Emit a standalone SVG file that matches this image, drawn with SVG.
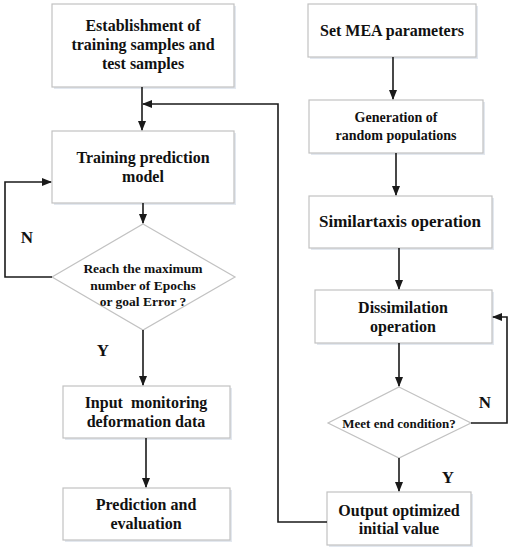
<svg xmlns="http://www.w3.org/2000/svg" width="512" height="550" viewBox="0 0 512 550">
<style>
.box{fill:#ffffff;stroke:#c2c2c2;stroke-width:1.2}
.sh{fill:#e3e8ef;stroke:none}
.t{font-family:"Liberation Serif","Times New Roman",serif;font-weight:bold;fill:#111;text-anchor:middle;white-space:pre}
.c{fill:none;stroke:#1a1a1a;stroke-width:1.6}
.lbl{font-family:"Liberation Serif","Times New Roman",serif;font-weight:bold;fill:#111;font-size:17px;text-anchor:middle}
</style>
<defs>
<marker id="ah" markerUnits="userSpaceOnUse" markerWidth="10" markerHeight="8" refX="9" refY="4" orient="auto">
<path d="M0,0 L10,4 L0,8 z" fill="#1a1a1a"/>
</marker>
</defs>
<rect width="512" height="550" fill="#ffffff"/>

<g id="n1">
<rect class="sh" x="54" y="6" width="182" height="83"/>
<rect class="box" x="52" y="4" width="182" height="83"/>
<text class="t" font-size="16" x="143" y="31">Establishment of</text>
<text class="t" font-size="16" x="143" y="50">training samples and</text>
<text class="t" font-size="16" x="143" y="69">test samples</text>
</g>
<g id="n2">
<rect class="sh" x="54" y="133" width="182" height="72"/>
<rect class="box" x="52" y="131" width="182" height="72"/>
<text class="t" font-size="16" x="143" y="163">Training prediction</text>
<text class="t" font-size="16" x="143" y="182">model</text>
</g>
<g id="n3">
<polygon points="143,224 235,277 143,330 52,277" class="box"/>
<text class="t" font-size="13.5" x="143" y="273">Reach the maximum</text>
<text class="t" font-size="13.5" x="143" y="290">number of Epochs</text>
<text class="t" font-size="13.5" x="143" y="306">or goal Error ?</text>
</g>
<g id="n4">
<rect class="sh" x="65" y="388" width="167" height="52"/>
<rect class="box" x="63" y="386" width="167" height="52"/>
<text class="t" font-size="16" x="146" y="408">Input  monitoring</text>
<text class="t" font-size="16" x="146" y="427">deformation data</text>
</g>
<g id="n5">
<rect class="sh" x="65" y="490" width="167" height="52"/>
<rect class="box" x="63" y="488" width="167" height="52"/>
<text class="t" font-size="16" x="146" y="510">Prediction and</text>
<text class="t" font-size="16" x="146" y="529">evaluation</text>
</g>

<g id="n6">
<rect class="sh" x="310" y="6" width="168" height="53"/>
<rect class="box" x="308" y="4" width="168" height="53"/>
<text class="t" font-size="16" x="392" y="36">Set MEA parameters</text>
</g>
<g id="n7">
<rect class="sh" x="311" y="102" width="174" height="53"/>
<rect class="box" x="309" y="100" width="174" height="53"/>
<text class="t" font-size="14" x="396" y="122">Generation of</text>
<text class="t" font-size="14" x="396" y="140">random populations</text>
</g>
<g id="n8">
<rect class="sh" x="311" y="198" width="183" height="52"/>
<rect class="box" x="309" y="196" width="183" height="52"/>
<text class="t" font-size="17" x="400" y="227">Similartaxis operation</text>
</g>
<g id="n9">
<rect class="sh" x="317" y="292" width="177" height="53"/>
<rect class="box" x="315" y="290" width="177" height="53"/>
<text class="t" font-size="16" x="403" y="313">Dissimilation</text>
<text class="t" font-size="16" x="403" y="332">operation</text>
</g>
<g id="n10">
<polygon points="399,387 471,423 399,458 328,423" class="box"/>
<text class="t" font-size="13" x="399" y="428">Meet end condition?</text>
</g>
<g id="n11">
<rect class="sh" x="329" y="494" width="144" height="53"/>
<rect class="box" x="327" y="492" width="144" height="53"/>
<text class="t" font-size="16" x="399" y="516">Output optimized</text>
<text class="t" font-size="16" x="399" y="534">initial value</text>
</g>

<g id="connectors">
<path class="c" d="M142,87 V130" marker-end="url(#ah)"/>
<path class="c" d="M327,522 H278 V104 H143" marker-end="url(#ah)"/>
<path class="c" d="M143,203 V223" marker-end="url(#ah)"/>
<path class="c" d="M52,277 H5 V182 H51" marker-end="url(#ah)"/>
<path class="c" d="M143,330 V385" marker-end="url(#ah)"/>
<path class="c" d="M146,438 V487" marker-end="url(#ah)"/>
<path class="c" d="M393,57 V99" marker-end="url(#ah)"/>
<path class="c" d="M396,153 V195" marker-end="url(#ah)"/>
<path class="c" d="M399,248 V289" marker-end="url(#ah)"/>
<path class="c" d="M399,343 V386" marker-end="url(#ah)"/>
<path class="c" d="M471,423 H507 V317 H493" marker-end="url(#ah)"/>
<path class="c" d="M399,458 V491" marker-end="url(#ah)"/>
<text class="lbl" x="27" y="243">N</text>
<text class="lbl" x="103" y="356">Y</text>
<text class="lbl" x="485" y="408">N</text>
<text class="lbl" x="448" y="483">Y</text>
</g>
</svg>
